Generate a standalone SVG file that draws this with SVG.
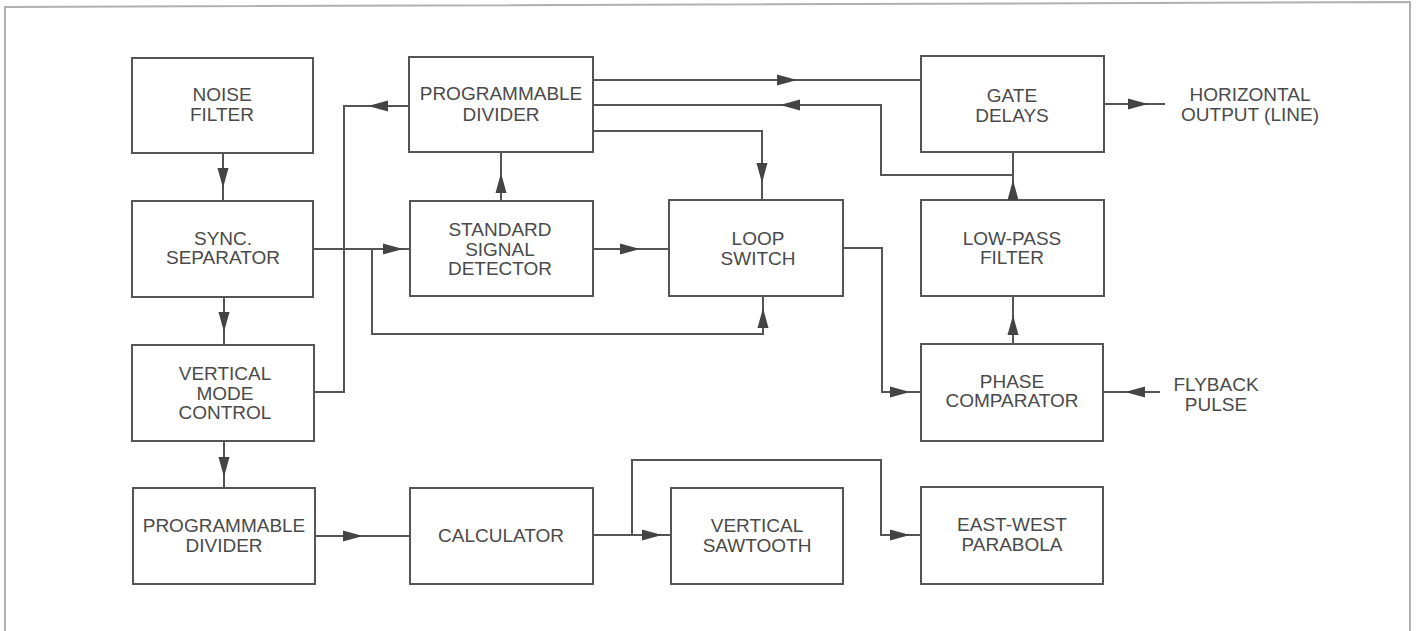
<svg xmlns="http://www.w3.org/2000/svg" xmlns:xlink="http://www.w3.org/1999/xlink" width="1417" height="631" viewBox="0 0 1417 631">
<style>
.box{fill:none;stroke:#555;stroke-width:2}
.lbl{font-family:"Liberation Sans",Arial,sans-serif;font-size:19px;fill:#4a4a4a;text-anchor:middle}
.wire{fill:none;stroke:#555;stroke-width:2}
.frame{fill:none;stroke:#b0b0b0;stroke-width:2}
</style>
<defs>
<path id="ah" d="M0 0 L-20 -5.5 L-20 5.5 Z" fill="#444"/>
</defs>
<rect width="1417" height="631" fill="#fff"/>
<path class="frame" d="M5 640 V7 L1410 2 V640"/>

<g id="noise-filter"><rect class="box" x="132" y="58" width="181" height="95"/><text class="lbl" x="222" y="101">NOISE</text><text class="lbl" x="222" y="121">FILTER</text></g>
<g id="sync-separator"><rect class="box" x="132" y="201" width="181" height="96"/><text class="lbl" x="223" y="245">SYNC.</text><text class="lbl" x="223" y="264">SEPARATOR</text></g>
<g id="vertical-mode-control"><rect class="box" x="132" y="345" width="182" height="96"/><text class="lbl" x="225" y="380">VERTICAL</text><text class="lbl" x="225" y="400">MODE</text><text class="lbl" x="225" y="419">CONTROL</text></g>
<g id="programmable-divider-v"><rect class="box" x="133" y="488" width="182" height="96"/><text class="lbl" x="224" y="532">PROGRAMMABLE</text><text class="lbl" x="224" y="552">DIVIDER</text></g>
<g id="calculator"><rect class="box" x="410" y="488" width="183" height="96"/><text class="lbl" x="501" y="542">CALCULATOR</text></g>
<g id="vertical-sawtooth"><rect class="box" x="671" y="488" width="172" height="96"/><text class="lbl" x="757" y="532">VERTICAL</text><text class="lbl" x="757" y="552">SAWTOOTH</text></g>
<g id="east-west-parabola"><rect class="box" x="921" y="487" width="182" height="97"/><text class="lbl" x="1012" y="531">EAST-WEST</text><text class="lbl" x="1012" y="551">PARABOLA</text></g>
<g id="phase-comparator"><rect class="box" x="921" y="344" width="182" height="97"/><text class="lbl" x="1012" y="388">PHASE</text><text class="lbl" x="1012" y="407">COMPARATOR</text></g>
<g id="programmable-divider-h"><rect class="box" x="409" y="57" width="184" height="95"/><text class="lbl" x="501" y="100">PROGRAMMABLE</text><text class="lbl" x="501" y="121">DIVIDER</text></g>
<g id="standard-signal-detector"><rect class="box" x="410" y="201" width="183" height="95"/><text class="lbl" x="500" y="236">STANDARD</text><text class="lbl" x="500" y="256">SIGNAL</text><text class="lbl" x="500" y="275">DETECTOR</text></g>
<g id="loop-switch"><rect class="box" x="669" y="200" width="174" height="96"/><text class="lbl" x="758" y="245">LOOP</text><text class="lbl" x="758" y="265">SWITCH</text></g>
<g id="gate-delays"><rect class="box" x="921" y="56" width="183" height="96"/><text class="lbl" x="1012" y="102">GATE</text><text class="lbl" x="1012" y="122">DELAYS</text></g>
<g id="low-pass-filter"><rect class="box" x="921" y="200" width="183" height="96"/><text class="lbl" x="1012" y="245">LOW-PASS</text><text class="lbl" x="1012" y="264">FILTER</text></g>
<g id="horizontal-output"><text class="lbl" x="1250" y="101">HORIZONTAL</text><text class="lbl" x="1250" y="121">OUTPUT (LINE)</text></g>
<g id="flyback-pulse"><text class="lbl" x="1216" y="391">FLYBACK</text><text class="lbl" x="1216" y="411">PULSE</text></g>

<g id="connectors">
<path class="wire" d="M223 153 V201"/>
<path class="wire" d="M224 297 V345"/>
<path class="wire" d="M224 441 V488"/>
<path class="wire" d="M315 536 H410"/>
<path class="wire" d="M593 535 H671"/>
<path class="wire" d="M632 535 V460 H881 V535 H921"/>
<path class="wire" d="M313 249 H410"/>
<path class="wire" d="M372 249 V334 H763 V296"/>
<path class="wire" d="M409 106 H344 V392 H314"/>
<path class="wire" d="M501 201 V152"/>
<path class="wire" d="M593 249 H669"/>
<path class="wire" d="M593 131 H762 V200"/>
<path class="wire" d="M593 80 H921"/>
<path class="wire" d="M593 105 H881 V175 H1013"/>
<path class="wire" d="M1013 152 V200"/>
<path class="wire" d="M1104 104 H1165"/>
<path class="wire" d="M843 248 H882 V392 H921"/>
<path class="wire" d="M1013 344 V296"/>
<path class="wire" d="M1160 392 H1103"/>
<use xlink:href="#ah" transform="translate(223,188) rotate(90)"/>
<use xlink:href="#ah" transform="translate(224,332) rotate(90)"/>
<use xlink:href="#ah" transform="translate(224,477) rotate(90)"/>
<use xlink:href="#ah" transform="translate(363,536)"/>
<use xlink:href="#ah" transform="translate(662,535)"/>
<use xlink:href="#ah" transform="translate(910,535)"/>
<use xlink:href="#ah" transform="translate(403,249)"/>
<use xlink:href="#ah" transform="translate(763,308) rotate(-90)"/>
<use xlink:href="#ah" transform="translate(368,106) rotate(180)"/>
<use xlink:href="#ah" transform="translate(501,173) rotate(-90)"/>
<use xlink:href="#ah" transform="translate(640,249)"/>
<use xlink:href="#ah" transform="translate(762,183) rotate(90)"/>
<use xlink:href="#ah" transform="translate(797,80)"/>
<use xlink:href="#ah" transform="translate(780,105) rotate(180)"/>
<use xlink:href="#ah" transform="translate(1013,180) rotate(-90)"/>
<use xlink:href="#ah" transform="translate(1148,104)"/>
<use xlink:href="#ah" transform="translate(910,392)"/>
<use xlink:href="#ah" transform="translate(1013,315) rotate(-90)"/>
<use xlink:href="#ah" transform="translate(1125,392) rotate(180)"/>
</g>
</svg>
